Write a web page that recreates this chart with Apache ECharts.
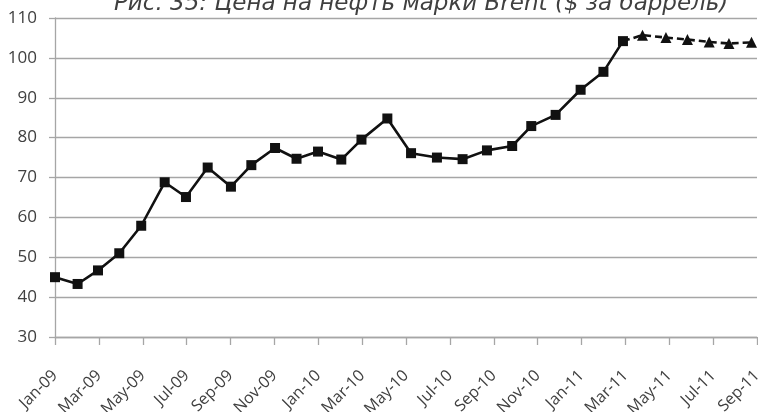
<!DOCTYPE html>
<html>
<head>
<meta charset="utf-8">
<script src="https://cdn.jsdelivr.net/npm/echarts@6/dist/echarts.min.js"></script>
<style>
  html, body { margin: 0; padding: 0; background: #fff; }
  #chart { width: 758px; height: 412px; }
</style>
</head>
<body>
<div id="chart"></div>
<script>
// Brent oil price, $ per barrel. X is months elapsed since January 2009.
const titleText = 'Рис. 35: Цена на нефть марки Brent ($ за баррель)';

const tickLabels = ['Jan-09', 'Mar-09', 'May-09', 'Jul-09', 'Sep-09', 'Nov-09',
  'Jan-10', 'Mar-10', 'May-10', 'Jul-10', 'Sep-10', 'Nov-10',
  'Jan-11', 'Mar-11', 'May-11', 'Jul-11', 'Sep-11'];

// Actual prices
const factMonths = [0, 1.03, 1.96, 2.93, 3.93, 5.0, 5.97, 6.96, 8.02, 8.95, 10.03, 11.01,
  11.99, 13.05, 13.97, 15.15, 16.23, 17.41, 18.58, 19.69, 20.84, 21.71, 22.82,
  23.96, 25.0, 25.89];
const factPrices = [45.0, 43.3, 46.7, 51.0, 57.9, 68.8, 65.1, 72.5, 67.7, 73.1, 77.4, 74.7,
  76.5, 74.5, 79.5, 84.8, 76.1, 75.0, 74.6, 76.8, 77.9, 82.9, 85.7,
  92.0, 96.5, 104.2];

// Forecast (continues from the last actual price)
const forecastMonths = [26.78, 27.85, 28.83, 29.82, 30.72, 31.75];
const forecastPrices = [105.7, 105.1, 104.6, 104.0, 103.6, 103.9];

const factData = factMonths.map((m, i) => [m, factPrices[i]]);
const lastIdx = factMonths.length - 1;
const forecastData = [
  { value: [factMonths[lastIdx], factPrices[lastIdx]], symbol: 'none' }
].concat(forecastMonths.map((m, i) => [m, forecastPrices[i]]));

const textColor = '#404040';
const gridColor = '#a6a6a6';
const lineColor = '#111111';

const chart = echarts.init(document.getElementById('chart'), null, { renderer: 'canvas' });
chart.setOption({
  animation: false,
  backgroundColor: '#ffffff',
  graphic: [{
    type: 'text',
    left: 114,
    top: -7,
    style: {
      text: titleText,
      fill: textColor,
      font: 'italic 23px "DejaVu Sans"'
    }
  }],
  grid: {
    left: 55, right: 1, top: 18, bottom: 75,
    containLabel: false,
    outerBoundsMode: 'none'
  },
  xAxis: {
    type: 'value',
    min: 0,
    max: 32,
    interval: 2,
    axisLine: { show: true, lineStyle: { color: gridColor, width: 1.3 } },
    axisTick: { show: true, length: 8, lineStyle: { color: gridColor, width: 1.3 } },
    splitLine: { show: false },
    axisLabel: {
      rotate: 45,
      margin: 36,
      color: textColor,
      fontFamily: 'Open Sans',
      fontSize: 16,
      showMinLabel: true,
      showMaxLabel: true,
      formatter: v => tickLabels[Math.round(v / 2)] || ''
    }
  },
  yAxis: {
    type: 'value',
    min: 30,
    max: 110,
    interval: 10,
    axisLine: { show: true, lineStyle: { color: gridColor, width: 1.3 } },
    axisTick: { show: true, length: 6, lineStyle: { color: gridColor, width: 1.3 } },
    splitLine: { show: true, lineStyle: { color: gridColor, width: 1.3 } },
    axisLabel: {
      color: textColor,
      fontFamily: 'Open Sans',
      fontSize: 17,
      margin: 18
    }
  },
  series: [
    {
      type: 'line',
      data: factData,
      symbol: 'rect',
      symbolSize: 10,
      showAllSymbol: true,
      lineStyle: { color: lineColor, width: 2.6 },
      itemStyle: { color: lineColor },
      z: 3
    },
    {
      type: 'line',
      data: forecastData,
      symbol: 'triangle',
      symbolSize: 11,
      showAllSymbol: true,
      lineStyle: { color: lineColor, width: 2.6, type: [7, 4] },
      itemStyle: { color: lineColor },
      z: 2
    }
  ]
});
</script>
</body>
</html>
